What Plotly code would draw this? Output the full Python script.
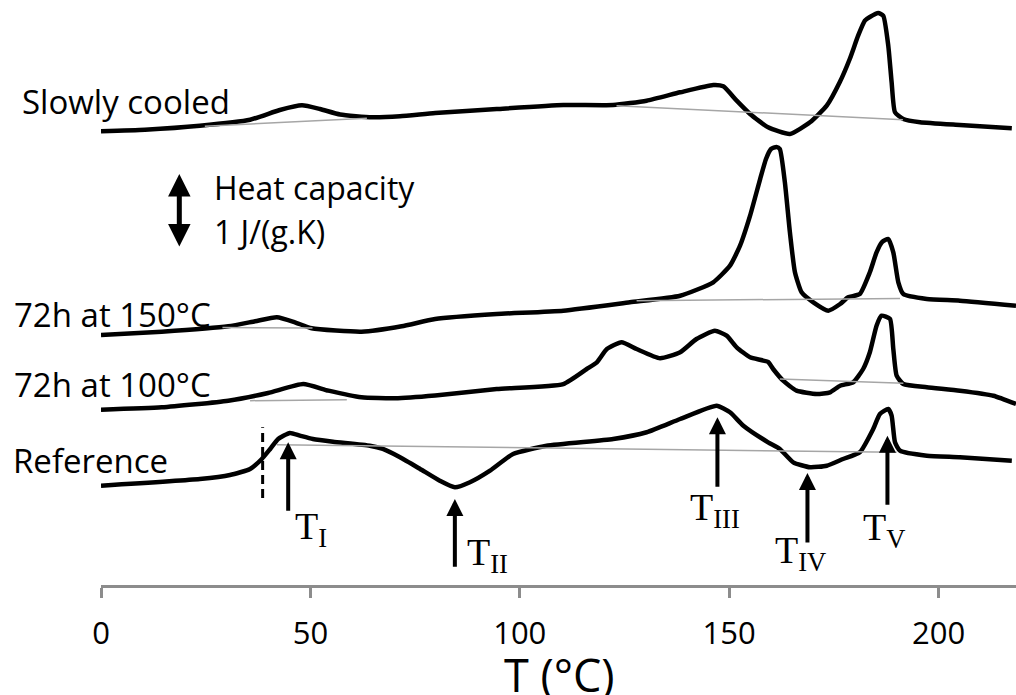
import plotly.graph_objects as go

# ---- data: temperature (°C) and offset heat capacity (J/(g.K), stacked display) ----
T_slow = [0, 10.5, 23.6, 35.6, 42.7, 48.0, 52.3, 57.1, 64.7, 71.4, 79.8, 94.5, 110.4, 122.3, 130.3,
          138.3, 146.2, 148.6, 151.8, 155.0, 159.3, 164.5, 169.3, 173.3, 176.4, 178.8, 180.8, 182.4,
          183.6, 185.6, 186.8, 188.0, 188.8, 189.6, 191.6, 195.6, 205.1, 217.5]
Cp_slow = [6.131, 6.153, 6.207, 6.288, 6.419, 6.482, 6.432, 6.358, 6.320, 6.334, 6.378, 6.432, 6.486,
           6.486, 6.545, 6.658, 6.757, 6.739, 6.545, 6.365, 6.185, 6.095, 6.253, 6.477, 6.793, 7.108,
           7.423, 7.626, 7.676, 7.730, 7.693, 7.288, 6.793, 6.388, 6.297, 6.253, 6.216, 6.172]

T_150 = [0, 14.5, 30.4, 36.8, 42.0, 46.3, 50.3, 62.2, 71.8, 79.8, 94.5, 110.4, 126.3, 138.3, 146.2,
         150.2, 152.6, 155.0, 157.4, 158.8, 160.0, 161.3, 162.1, 163.3, 164.5, 165.7, 167.3, 170.1,
         173.7, 176.5, 178.4, 181.2, 183.6, 185.2, 186.5, 188.0, 189.2, 190.4, 191.6, 197.2, 205.1, 218.5]
Cp_150 = [3.378, 3.423, 3.496, 3.564, 3.618, 3.550, 3.469, 3.423, 3.496, 3.595, 3.662, 3.707, 3.820,
          3.909, 4.091, 4.315, 4.585, 4.991, 5.486, 5.757, 5.892, 5.919, 5.892, 5.446, 4.770, 4.230,
          3.955, 3.820, 3.707, 3.797, 3.888, 3.932, 4.226, 4.496, 4.635, 4.676, 4.496, 4.091, 3.932,
          3.865, 3.842, 3.774]

T_100 = [0, 14.5, 30.4, 39.9, 48.3, 54.3, 62.2, 70.2, 79.8, 94.5, 110.4, 116.0, 118.4, 120.8, 124.3,
         127.9, 133.5, 138.3, 142.2, 146.6, 149.4, 151.8, 155.0, 159.3, 160.5, 162.9, 166.1, 170.9,
         174.1, 176.5, 179.6, 182.0, 183.6, 185.2, 186.4, 188.4, 189.2, 190.0, 191.6, 197.2, 205.1,
         213.1, 218.5]
Cp_100 = [2.369, 2.401, 2.491, 2.595, 2.716, 2.626, 2.536, 2.523, 2.561, 2.649, 2.716, 2.919, 3.009,
          3.189, 3.280, 3.189, 3.064, 3.145, 3.324, 3.436, 3.369, 3.212, 3.077, 3.014, 2.919, 2.761,
          2.626, 2.581, 2.604, 2.693, 2.739, 2.919, 3.145, 3.504, 3.639, 3.595, 3.189, 2.828, 2.716,
          2.672, 2.626, 2.558, 2.446]

T_ref = [0, 23.6, 30.8, 35.6, 38.4, 40.4, 42.3, 45.1, 47.5, 50.6, 55.4, 64.2, 67.3, 71.4, 76.2, 80.9,
         84.5, 88.1, 92.9, 98.4, 106.4, 122.3, 130.3, 138.3, 147.0, 150.2, 153.4, 159.3, 162.1, 165.3,
         169.3, 173.3, 177.2, 181.2, 184.4, 186.0, 188.0, 188.8, 189.6, 190.8, 197.2, 205.1, 217.5]
Cp_ref = [1.342, 1.432, 1.486, 1.568, 1.703, 1.838, 1.973, 2.054, 2.018, 1.973, 1.936, 1.882, 1.838,
          1.726, 1.568, 1.409, 1.320, 1.388, 1.545, 1.770, 1.882, 1.973, 2.064, 2.243, 2.423, 2.334,
          2.153, 1.928, 1.838, 1.658, 1.591, 1.612, 1.703, 1.793, 2.108, 2.311, 2.378, 2.288, 1.928,
          1.815, 1.747, 1.726, 1.680]

# grey baselines: (T_start, T_end, Cp_start, Cp_end)
baselines = [
    (24.8, 63.5, 6.199, 6.307),
    (123.1, 191.5, 6.477, 6.288),
    (29.0, 50.5, 3.480, 3.472),
    (127.9, 190.8, 3.842, 3.872),
    (35.6, 58.7, 2.491, 2.504),
    (162.1, 191.6, 2.784, 2.726),
    (42.0, 190.0, 1.896, 1.793),
]

curve_names = ["Slowly cooled", "72h at 150°C", "72h at 100°C", "Reference"]
curve_label_x = [-0.0885, -0.0975, -0.0975, -0.0985]   # paper fraction (left of the plot)
curve_label_y = [6.54, 3.655, 2.709, 1.685]

# transition markers: (label, T, arrow tip Cp, arrow tail Cp, label x, label y)
trans_labels = ["T<sub>I</sub>", "T<sub>II</sub>", "T<sub>III</sub>", "T<sub>IV</sub>", "T<sub>V</sub>"]
trans_T = [44.7, 84.5, 147.2, 168.7, 187.8]
trans_tip = [1.928, 1.162, 2.266, 1.514, 2.018]
trans_tail = [0.982, 0.226, 1.307, 0.554, 1.064]
trans_lab_x = [45.8, 86.9, 140.2, 160.5, 181.6]
trans_lab_y = [0.757, 0.405, 1.007, 0.436, 0.746]

T_glass = 38.6
glass_span = [1.176, 2.132]

x_ticks = [0, 50, 100, 150, 200]

fig = go.Figure()

for (x, y) in [(T_slow, Cp_slow), (T_150, Cp_150), (T_100, Cp_100), (T_ref, Cp_ref)]:
    fig.add_trace(go.Scatter(x=x, y=y, mode="lines",
                             line=dict(color="black", width=4.5, shape="spline", smoothing=0.5),
                             showlegend=False, hoverinfo="skip"))

for (t0, t1, c0, c1) in baselines:
    fig.add_trace(go.Scatter(x=[t0, t1], y=[c0, c1], mode="lines",
                             line=dict(color="#a6a6a6", width=1.5),
                             showlegend=False, hoverinfo="skip"))

fig.add_trace(go.Scatter(x=[T_glass, T_glass], y=glass_span, mode="lines",
                         line=dict(color="black", width=3, dash="9px,5px"),
                         showlegend=False, hoverinfo="skip"))

annotations = []
sans = "Open Sans, Liberation Sans, sans-serif"
serif = "Liberation Serif, Times New Roman, serif"

for name, xx, yy in zip(curve_names, curve_label_x, curve_label_y):
    annotations.append(dict(x=xx, y=yy, xref="paper", yref="y", text=name, showarrow=False,
                            xanchor="left", yanchor="middle",
                            font=dict(family=sans, size=33, color="black")))

annotations.append(dict(x=26.4, y=5.376, xref="x", yref="y", text="Heat capacity", showarrow=False,
                        xanchor="left", yanchor="middle", font=dict(family=sans, size=32, color="black")))
annotations.append(dict(x=26.4, y=4.781, xref="x", yref="y", text="1 J/(g.K)", showarrow=False,
                        xanchor="left", yanchor="middle", font=dict(family=sans, size=32, color="black")))

# double-headed scale arrow (1 J/(g.K))
annotations.append(dict(x=18.7, y=5.554, ax=18.7, ay=4.554, xref="x", yref="y", axref="x", ayref="y",
                        text="", showarrow=True, arrowhead=2, startarrowhead=2, arrowside="end+start",
                        arrowwidth=5, arrowsize=0.9, startarrowsize=0.9, arrowcolor="black",
                        standoff=0, startstandoff=0))

for lab, t, tip, tail, lx, ly in zip(trans_labels, trans_T, trans_tip, trans_tail, trans_lab_x, trans_lab_y):
    annotations.append(dict(x=t, y=tip, ax=t, ay=tail, xref="x", yref="y", axref="x", ayref="y",
                            text="", showarrow=True, arrowhead=2, arrowwidth=4, arrowsize=0.85,
                            arrowcolor="black", standoff=0, startstandoff=0))
    annotations.append(dict(x=lx, y=ly, xref="x", yref="y", text=lab, showarrow=False,
                            xanchor="left", yanchor="middle",
                            font=dict(family=serif, size=38, color="black")))

# axis title
annotations.append(dict(x=0.5016, y=-0.1535, xref="paper", yref="paper", text="T (°C)", showarrow=False,
                        xanchor="center", yanchor="middle",
                        font=dict(family=sans, size=45, color="black")))

fig.update_layout(
    width=1016, height=695,
    margin=dict(l=101, r=0, t=0, b=110),
    paper_bgcolor="white", plot_bgcolor="white",
    showlegend=False,
    annotations=annotations,
    xaxis=dict(range=[0, 218.5], tickvals=x_ticks, ticktext=[str(v) for v in x_ticks],
               showline=True, linecolor="#8c8c8c", linewidth=3,
               ticks="outside", ticklen=10, tickwidth=3, tickcolor="#8c8c8c",
               ticklabelstandoff=9,
               showgrid=False, zeroline=False,
               tickfont=dict(family=sans, size=31, color="black")),
    yaxis=dict(range=[0, 585 / 74], visible=False, showgrid=False, zeroline=False),
)

fig.write_html("out.html")
